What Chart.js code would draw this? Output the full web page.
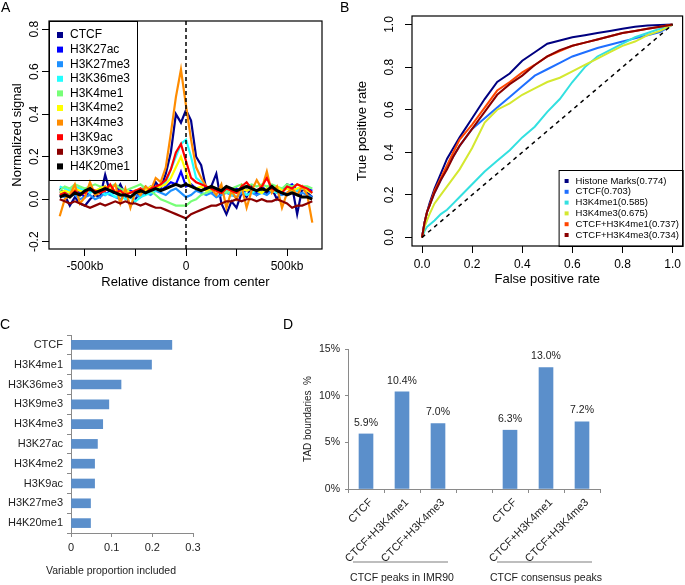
<!DOCTYPE html>
<html>
<head>
<meta charset="utf-8">
<script src="https://cdn.jsdelivr.net/npm/chart.js@4.4.1/dist/chart.umd.min.js"></script>
<style>
  body { margin: 0; background: #fff; }
  #wrap { position: relative; width: 685px; height: 585px; font-family: "Liberation Sans", Arial, Helvetica, sans-serif; }
  canvas { position: absolute; }
  .tag { position: absolute; font-size: 14px; line-height: 14px; }
</style>
</head>
<body>
<div id="wrap">
  <canvas id="cA" width="340" height="295" style="left:0;top:0"></canvas>
  <canvas id="cB" width="345" height="295" style="left:340px;top:0"></canvas>
  <canvas id="cC" width="290" height="285" style="left:0;top:300px"></canvas>
  <canvas id="cD" width="395" height="285" style="left:290px;top:300px"></canvas>
  <div class="tag" style="left:1px;top:0">A</div>
  <div class="tag" style="left:340px;top:0">B</div>
  <div class="tag" style="left:0;top:317px">C</div>
  <div class="tag" style="left:283px;top:317px">D</div>
</div>
<script>
// ---- panel A: signal around boundary centre ----
const distKb = [-625, -600, -575, -550, -525, -500, -475, -450, -425, -400,
  -375, -350, -325, -300, -275, -250, -225, -200, -175, -150,
  -125, -100, -75, -50, -25, 0, 25, 50, 75, 100,
  125, 150, 175, 200, 225, 250, 275, 300, 325, 350,
  375, 400, 425, 450, 475, 500, 525, 550, 575, 600, 625];
const distTicks = [-500, -250, 0, 250, 500];
const distTickText = ['-500kb', '', '0', '', '500kb'];
const signalTicks = [-0.2, 0, 0.2, 0.4, 0.6, 0.8];

const markNames = ['CTCF', 'H3K27ac', 'H3K27me3', 'H3K36me3', 'H3K4me1', 'H3K4me2', 'H3K4me3', 'H3K9ac', 'H3K9me3', 'H4K20me1'];

const sigCTCF = [0.05, 0.02, -0.03, 0.01, -0.02, -0.03, 0.0, 0.02, 0.01, 0.115,
  0.03, 0.03, 0.07, 0.02, -0.03, 0.0, 0.04, 0.06, 0.03, 0.08,
  0.05, 0.12, 0.22, 0.40, 0.36, 0.42, 0.37, 0.20, 0.16, 0.05,
  0.06, 0.12, -0.02, -0.07, -0.01, -0.04, 0.03, 0.01, 0.06, 0.02,
  0.04, 0.03, 0.05, 0.0, 0.04, 0.07, 0.06, -0.07, 0.05, 0.03, 0.01];
const sigH3K27ac = [0.03, 0.04, 0.02, 0.05, 0.03, 0.01, 0.04, 0.03, 0.05, 0.02,
  0.04, 0.03, 0.05, 0.02, 0.04, 0.03, 0.05, 0.04, 0.06, 0.05,
  0.04, 0.06, 0.08, 0.07, 0.13, 0.06, 0.07, 0.05, 0.04, 0.06,
  0.03, 0.05, 0.03, 0.04, 0.02, 0.05, 0.03, 0.04, 0.05, 0.03,
  0.06, 0.04, 0.05, 0.03, 0.05, 0.06, 0.07, 0.04, 0.06, 0.05, 0.04];
const sigH3K27me3 = [0.02, 0.01, 0.03, 0.02, 0.0, 0.01, 0.02, 0.0, 0.01, 0.03,
  0.02, 0.01, 0.0, 0.02, 0.01, 0.02, 0.01, 0.03, 0.02, 0.04,
  0.03, 0.02, 0.04, 0.05, 0.03, 0.01, 0.02, 0.04, 0.03, 0.02,
  0.03, 0.01, 0.02, 0.03, 0.02, 0.01, 0.03, 0.02, 0.03, 0.02,
  0.03, 0.02, 0.04, 0.03, 0.02, 0.03, 0.04, 0.02, 0.03, 0.02, 0.01];
const sigH3K36me3 = [0.06, 0.05, 0.04, 0.06, 0.05, 0.04, 0.03, 0.04, 0.05, 0.02,
  0.03, 0.01, 0.02, 0.0, 0.01, -0.01, 0.01, 0.02, 0.03, 0.04,
  0.06, 0.08, 0.14, 0.20, 0.26, 0.28, 0.20, 0.10, 0.08, 0.06,
  0.04, 0.05, 0.03, 0.04, 0.02, 0.03, 0.04, 0.02, 0.03, 0.04,
  0.03, 0.05, 0.04, 0.03, 0.04, 0.05, 0.06, 0.04, 0.05, 0.04, 0.03];
const sigH3K4me1 = [0.04, 0.06, 0.05, 0.07, 0.06, 0.05, 0.06, 0.07, 0.06, 0.05,
  0.06, 0.07, 0.05, 0.04, 0.05, 0.06, 0.07, 0.05, 0.04, 0.02,
  0.0, -0.01, -0.02, -0.03, -0.03, -0.03, -0.01, 0.0, 0.02, 0.03,
  0.04, 0.05, 0.04, 0.03, 0.05, 0.06, 0.07, 0.06, 0.07, 0.06,
  0.07, 0.06, 0.07, 0.06, 0.05, 0.07, 0.06, 0.07, 0.06, 0.06, 0.05];
const sigH3K4me2 = [0.03, 0.04, 0.03, 0.05, 0.04, 0.03, 0.05, 0.04, 0.05, 0.06,
  0.05, 0.04, 0.03, 0.04, 0.03, 0.04, 0.05, 0.04, 0.06, 0.05,
  0.06, 0.07, 0.10, 0.15, 0.20, 0.13, 0.06, 0.05, 0.06, 0.04,
  0.05, 0.04, 0.03, 0.05, 0.04, 0.03, 0.05, 0.04, 0.05, 0.04,
  0.03, 0.05, 0.04, 0.06, 0.04, 0.05, 0.04, 0.05, 0.06, 0.04, 0.03];
const sigH3K4me3 = [-0.08, 0.0, 0.02, 0.07, -0.02, 0.01, 0.08, 0.02, 0.03, 0.06,
  0.04, 0.07, -0.02, 0.05, -0.04, 0.04, 0.02, 0.06, 0.04, 0.10,
  0.08, 0.15, 0.31, 0.48, 0.61, 0.44, 0.28, 0.15, 0.10, 0.06,
  0.05, 0.02, 0.07, -0.04, 0.04, 0.0, 0.06, -0.04, 0.04, 0.09,
  0.05, 0.13, 0.03, 0.06, -0.04, 0.03, 0.05, 0.02, 0.06, 0.02, -0.11];
const sigH3K9ac = [0.02, 0.03, 0.01, 0.04, 0.02, 0.03, 0.05, 0.04, 0.03, 0.04,
  0.07, 0.03, 0.04, 0.02, 0.03, 0.04, 0.05, 0.03, 0.05, 0.06,
  0.07, 0.09, 0.14, 0.22, 0.26, 0.18, 0.10, 0.08, 0.07, 0.06,
  0.05, 0.04, 0.03, 0.05, 0.04, 0.03, 0.06, 0.08, 0.05, 0.04,
  0.06, 0.10, 0.05, 0.04, 0.03, 0.06, 0.05, 0.07, 0.06, 0.05, 0.03];
const sigH3K9me3 = [0.0, -0.01, -0.02, -0.01, -0.02, -0.03, -0.04, -0.03, -0.02, -0.03,
  -0.02, -0.01, -0.02, -0.01, -0.02, -0.02, -0.03, -0.02, -0.03, -0.04,
  -0.04, -0.05, -0.06, -0.07, -0.08, -0.09, -0.07, -0.06, -0.05, -0.04,
  -0.03, -0.03, -0.02, -0.01, -0.01, 0.0, -0.01, 0.0, 0.0, -0.01,
  0.0, -0.01, -0.01, 0.0, -0.01, -0.02, -0.04, -0.03, -0.03, -0.02, -0.01];
const sigH4K20me1 = [0.01, 0.02, 0.01, 0.03, 0.02, 0.04, 0.05, 0.03, 0.04, 0.05,
  0.04, 0.03, 0.02, 0.02, 0.01, 0.03, 0.04, 0.03, 0.04, 0.05,
  0.04, 0.05, 0.06, 0.07, 0.06, 0.07, 0.06, 0.05, 0.04, 0.05,
  0.06, 0.05, 0.04, 0.06, 0.05, 0.04, 0.05, 0.06, 0.05, 0.04,
  0.05, 0.04, 0.06, 0.04, 0.03, 0.02, 0.03, 0.02, 0.01, 0.01, 0.0];

// ---- panel B: ROC curves ----
const fprGrid = [0, 0.01, 0.02, 0.03, 0.05, 0.075, 0.1, 0.125, 0.15, 0.2, 0.25, 0.3, 0.35,
  0.4, 0.45, 0.5, 0.55, 0.6, 0.65, 0.7, 0.75, 0.8, 0.85, 0.9, 0.95, 1.0];
const rocNames = ['Histone Marks(0.774)', 'CTCF(0.703)', 'H3K4me1(0.585)', 'H3K4me3(0.675)', 'CTCF+H3K4me1(0.737)', 'CTCF+H3K4me3(0.734)'];
const tprHistone = [0, 0.07, 0.12, 0.16, 0.23, 0.30, 0.37, 0.42, 0.47, 0.56, 0.65, 0.73, 0.77,
  0.83, 0.87, 0.91, 0.925, 0.94, 0.95, 0.96, 0.97, 0.98, 0.99, 0.995, 0.998, 1.0];
const tprCTCF = [0, 0.07, 0.12, 0.15, 0.21, 0.27, 0.33, 0.38, 0.43, 0.51, 0.56, 0.61, 0.66,
  0.71, 0.76, 0.79, 0.82, 0.85, 0.87, 0.89, 0.905, 0.92, 0.935, 0.95, 0.965, 1.0];
const tprH3K4me1 = [0, 0.03, 0.05, 0.06, 0.08, 0.11, 0.13, 0.16, 0.19, 0.25, 0.31, 0.36, 0.41,
  0.47, 0.52, 0.59, 0.65, 0.73, 0.80, 0.85, 0.88, 0.91, 0.94, 0.96, 0.98, 1.0];
const tprH3K4me3 = [0, 0.05, 0.08, 0.11, 0.16, 0.20, 0.24, 0.28, 0.32, 0.42, 0.54, 0.60, 0.63,
  0.67, 0.70, 0.73, 0.75, 0.78, 0.81, 0.84, 0.87, 0.90, 0.92, 0.95, 0.97, 1.0];
const tprCTCFme1 = [0, 0.07, 0.12, 0.15, 0.22, 0.28, 0.34, 0.40, 0.46, 0.53, 0.61, 0.69, 0.73,
  0.775, 0.81, 0.85, 0.875, 0.90, 0.915, 0.93, 0.945, 0.96, 0.97, 0.98, 0.99, 1.0];
const tprCTCFme3 = [0, 0.07, 0.12, 0.15, 0.21, 0.27, 0.32, 0.38, 0.43, 0.51, 0.59, 0.67, 0.72,
  0.76, 0.81, 0.85, 0.88, 0.90, 0.915, 0.93, 0.945, 0.96, 0.97, 0.98, 0.99, 1.0];
const diagX = [0, 1];
const diagY = [0, 1];
const rocTicks = [0, 0.2, 0.4, 0.6, 0.8, 1.0];

// ---- panel C: variable importance ----
const importanceLabels = ['CTCF', 'H3K4me1', 'H3K36me3', 'H3K9me3', 'H3K4me3', 'H3K27ac', 'H3K4me2', 'H3K9ac', 'H3K27me3', 'H4K20me1'];
const importanceValues = [0.248, 0.198, 0.123, 0.093, 0.078, 0.065, 0.058, 0.058, 0.048, 0.048];
const importanceTicks = [0, 0.1, 0.2, 0.3];

// ---- panel D: TAD boundary percentages ----
const tadLabels = ['CTCF', 'CTCF+H3K4me1', 'CTCF+H3K4me3', '', 'CTCF', 'CTCF+H3K4me1', 'CTCF+H3K4me3'];
const tadValues = [5.9, 10.4, 7.0, null, 6.3, 13.0, 7.2];
const tadGroups = ['CTCF peaks in IMR90', 'CTCF consensus peaks'];
const tadGroupIdx = [[0, 2], [4, 6]];
const tadTicks = [0, 5, 10, 15];

const FONT = '"Liberation Sans", Arial, Helvetica, sans-serif';
Chart.defaults.font.family = FONT;
Chart.defaults.color = '#000';
Chart.defaults.animation = false;
Chart.defaults.events = [];
Chart.defaults.plugins.legend.display = false;
Chart.defaults.plugins.tooltip.enabled = false;

// box round the plot region, R style
function drawBox(chart) {
  const { ctx, chartArea: a } = chart;
  ctx.save();
  ctx.strokeStyle = '#000';
  ctx.lineWidth = 1.2;
  ctx.strokeRect(a.left, a.top, a.right - a.left, a.bottom - a.top);
  ctx.restore();
}

// R draws y tick labels parallel to the axis
function drawYLabels(chart, x, ticks, size) {
  const { ctx } = chart;
  const y = chart.scales.y;
  ctx.save();
  ctx.font = size + 'px ' + FONT;
  ctx.fillStyle = '#000';
  ctx.textAlign = 'center';
  ctx.textBaseline = 'middle';
  ticks.forEach(v => {
    ctx.save();
    ctx.translate(x, y.getPixelForValue(v));
    ctx.rotate(-Math.PI / 2);
    ctx.fillText(v.toFixed(1), 0, 0);
    ctx.restore();
  });
  ctx.restore();
}

function drawLegend(chart, box, items, opt) {
  const { ctx } = chart;
  ctx.save();
  ctx.strokeStyle = '#000';
  ctx.lineWidth = 1;
  ctx.strokeRect(box.x + 0.5, box.y + 0.5, box.w, box.h);
  ctx.font = opt.size + 'px ' + FONT;
  ctx.textBaseline = 'middle';
  items.forEach((it, i) => {
    const yy = box.y + opt.first + i * opt.step;
    ctx.fillStyle = it.color;
    ctx.fillRect(box.x + opt.mark - opt.sq / 2, yy - opt.sq / 2, opt.sq, opt.sq);
    ctx.fillStyle = '#000';
    ctx.fillText(it.label, box.x + opt.text, yy);
  });
  ctx.restore();
}

function rTickGrid() {
  return { drawOnChartArea: false, drawTicks: true, tickLength: 7, color: '#000', lineWidth: 1 };
}

// ---------- A ----------
const markColors = ['#00008b', '#0000ff', '#1e90ff', '#22ffff', '#77ff77', '#ffff00', '#ff8c00', '#ff0000', '#8b0000', '#000000'];
const markSignals = [sigCTCF, sigH3K27ac, sigH3K27me3, sigH3K36me3, sigH3K4me1, sigH3K4me2, sigH3K4me3, sigH3K9ac, sigH3K9me3, sigH4K20me1];

new Chart(document.getElementById('cA'), {
  type: 'line',
  data: {
    datasets: markNames.map((name, i) => ({
      label: name,
      data: distKb.map((kb, j) => ({ x: kb, y: markSignals[i][j] })),
      borderColor: markColors[i],
      borderWidth: name === 'H4K20me1' ? 3 : 2.2,
      pointRadius: 0,
      tension: 0,
      order: markNames.length - i
    }))
  },
  options: {
    responsive: false,
    layout: { padding: { top: 21, right: 18, left: 0, bottom: 0 } },
    scales: {
      x: {
        type: 'linear', min: -678, max: 673,
        afterBuildTicks: s => { s.ticks = distTicks.map(v => ({ value: v })); },
        afterFit: s => { s.height = 46; },
        grid: rTickGrid(),
        border: { display: false },
        ticks: { font: { size: 12 }, padding: 3, autoSkip: false, maxRotation: 0, callback: (v, i) => distTickText[i] },
        title: { display: true, text: 'Relative distance from center', font: { size: 13 }, padding: { top: 0, bottom: 5 } }
      },
      y: {
        min: -0.234, max: 0.838,
        afterBuildTicks: s => { s.ticks = signalTicks.map(v => ({ value: v })); },
        afterFit: s => { s.width = 49; },
        grid: rTickGrid(),
        border: { display: false },
        ticks: { display: false },
        title: { display: true, text: 'Normalized signal', font: { size: 13 }, padding: { top: 10, bottom: 0 } }
      }
    }
  },
  plugins: [{
    id: 'panelA',
    afterDatasetsDraw(chart) {
      const { ctx, chartArea: a } = chart;
      const x0 = chart.scales.x.getPixelForValue(0);
      ctx.save();
      ctx.setLineDash([4, 3]);
      ctx.lineWidth = 1.5;
      ctx.strokeStyle = '#000';
      ctx.beginPath();
      ctx.moveTo(x0, a.top);
      ctx.lineTo(x0, a.bottom);
      ctx.stroke();
      ctx.restore();
    },
    afterDraw(chart) {
      const a = chart.chartArea;
      drawBox(chart);
      drawYLabels(chart, 35, signalTicks, 12);
      drawLegend(chart, { x: a.left, y: a.top, w: 88, h: 159 },
        markNames.map((n, i) => ({ label: n, color: markColors[i] })),
        { size: 12, first: 14, step: 14.6, mark: 11, sq: 6, text: 21 });
    }
  }]
});

// ---------- B ----------
const rocColors = ['#000080', '#1f6fff', '#33e0e0', '#d4e830', '#ff4500', '#8b0000'];
const rocTpr = [tprHistone, tprCTCF, tprH3K4me1, tprH3K4me3, tprCTCFme1, tprCTCFme3];

const rocSets = rocNames.map((name, i) => ({
  label: name,
  data: fprGrid.map((f, j) => ({ x: f, y: rocTpr[i][j] })),
  borderColor: rocColors[i],
  borderWidth: 2,
  pointRadius: 0,
  tension: 0,
  order: rocNames.length - i
}));
rocSets.push({
  label: 'random',
  data: diagX.map((v, j) => ({ x: v, y: diagY[j] })),
  borderColor: '#000',
  borderWidth: 1.5,
  borderDash: [4, 4],
  pointRadius: 0,
  order: 0
});

new Chart(document.getElementById('cB'), {
  type: 'line',
  data: { datasets: rocSets },
  options: {
    responsive: false,
    layout: { padding: { top: 16, right: 2, left: 0, bottom: 0 } },
    scales: {
      x: {
        type: 'linear', min: -0.04, max: 1.04,
        afterBuildTicks: s => { s.ticks = rocTicks.map(v => ({ value: v })); },
        afterFit: s => { s.height = 49; },
        grid: rTickGrid(),
        border: { display: false },
        ticks: { font: { size: 12 }, padding: 4, autoSkip: false, maxRotation: 0, callback: v => v.toFixed(1) },
        title: { display: true, text: 'False positive rate', font: { size: 13 }, padding: { top: 0, bottom: 8 } }
      },
      y: {
        min: -0.04, max: 1.04,
        afterBuildTicks: s => { s.ticks = rocTicks.map(v => ({ value: v })); },
        afterFit: s => { s.width = 72; },
        grid: rTickGrid(),
        border: { display: false },
        ticks: { display: false },
        title: { display: true, text: 'True positive rate', font: { size: 13 }, padding: { top: 15, bottom: 0 } }
      }
    }
  },
  plugins: [{
    id: 'panelB',
    afterDraw(chart) {
      const a = chart.chartArea;
      drawBox(chart);
      drawYLabels(chart, 50, rocTicks, 12);
      drawLegend(chart, { x: a.right - 124, y: a.bottom - 76, w: 124, h: 76 },
        rocNames.map((n, i) => ({ label: n, color: rocColors[i] })),
        { size: 9.5, first: 11, step: 10.8, mark: 8, sq: 4, text: 17 });
    }
  }]
});

// ---------- C ----------
const excelAxis = '#8a8a8a';
new Chart(document.getElementById('cC'), {
  type: 'bar',
  data: {
    labels: importanceLabels,
    datasets: [{ data: importanceValues, backgroundColor: '#5b8fcb', barThickness: 9 }]
  },
  options: {
    responsive: false,
    indexAxis: 'y',
    layout: { padding: { top: 35, right: 97, left: 0, bottom: 0 } },
    scales: {
      x: {
        min: 0, max: 0.3,
        afterBuildTicks: s => { s.ticks = importanceTicks.map(v => ({ value: v })); },
        afterFit: s => { s.height = 52; },
        grid: { drawOnChartArea: false, tickLength: 4, color: excelAxis },
        border: { color: excelAxis },
        ticks: { font: { size: 11 }, color: '#222', padding: 4, callback: v => String(v) }
      },
      y: {
        afterFit: s => { s.width = 71; },
        grid: { drawOnChartArea: false, tickLength: 4, color: excelAxis },
        border: { color: excelAxis },
        ticks: { font: { size: 11 }, color: '#222', padding: 4 }
      }
    }
  },
  plugins: [{
    id: 'panelC',
    afterDraw(chart) {
      const { ctx } = chart;
      ctx.save();
      ctx.font = '10.5px ' + FONT;
      ctx.fillStyle = '#222';
      ctx.textAlign = 'center';
      ctx.textBaseline = 'middle';
      ctx.fillText('Variable proportion included', 111, 271);
      ctx.restore();
    }
  }]
});

// ---------- D ----------
new Chart(document.getElementById('cD'), {
  type: 'bar',
  data: {
    labels: tadLabels,
    datasets: [{ data: tadValues, backgroundColor: '#5b8fcb', barThickness: 14 }]
  },
  options: {
    responsive: false,
    layout: { padding: { top: 49, right: 85, left: 0, bottom: 0 } },
    scales: {
      x: {
        afterFit: s => { s.height = 96; },
        grid: { drawOnChartArea: false, tickLength: 4, color: excelAxis },
        border: { color: excelAxis },
        ticks: { font: { size: 11 }, color: '#222', padding: 3, labelOffset: 5, minRotation: 45, maxRotation: 45, autoSkip: false }
      },
      y: {
        min: 0, max: 15,
        afterBuildTicks: s => { s.ticks = tadTicks.map(v => ({ value: v })); },
        afterFit: s => { s.width = 58; },
        grid: { drawOnChartArea: false, tickLength: 3, color: excelAxis },
        border: { color: excelAxis },
        ticks: { font: { size: 10.5 }, color: '#222', padding: 5, callback: v => v + '%' },
        title: { display: true, text: 'TAD boundaries  %', font: { size: 10 }, color: '#222', padding: { top: 12, bottom: 0 } }
      }
    }
  },
  plugins: [{
    id: 'panelD',
    afterDatasetsDraw(chart) {
      const { ctx } = chart;
      const meta = chart.getDatasetMeta(0);
      ctx.save();
      ctx.font = '10.5px ' + FONT;
      ctx.fillStyle = '#222';
      ctx.textAlign = 'center';
      ctx.textBaseline = 'bottom';
      meta.data.forEach((bar, i) => {
        if (tadValues[i] == null) return;
        ctx.fillText(tadValues[i].toFixed(1) + '%', bar.x, bar.y - 6);
      });
      ctx.restore();
    },
    afterDraw(chart) {
      const { ctx } = chart;
      const xs = chart.scales.x;
      ctx.save();
      ctx.strokeStyle = '#a8a8a8';
      ctx.lineWidth = 1.5;
      ctx.font = '10.5px ' + FONT;
      ctx.fillStyle = '#222';
      ctx.textAlign = 'center';
      ctx.textBaseline = 'middle';
      tadGroupIdx.forEach((g, k) => {
        const x1 = xs.getPixelForValue(g[0]);
        const x2 = xs.getPixelForValue(g[1]);
        ctx.beginPath();
        ctx.moveTo(x1 - 13, 262);
        ctx.lineTo(x2 + 10, 262);
        ctx.stroke();
        ctx.fillText(tadGroups[k], (x1 + x2) / 2, 278);
      });
      ctx.restore();
    }
  }]
});
</script>
</body>
</html>
